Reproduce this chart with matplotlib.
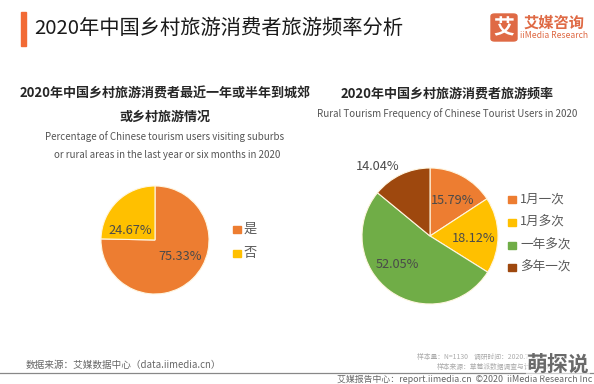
import matplotlib
matplotlib.use('Agg')
import matplotlib.pyplot as plt
from matplotlib.patches import Rectangle, FancyBboxPatch

plt.rcParams['font.family'] = ['Noto Sans CJK SC', 'DejaVu Sans']

W, H = 594, 384

left_labels = ['是', '否']
left_values = [75.33, 24.67]
left_colors = ['#ED7D31', '#FFC000']

right_labels = ['1月一次', '1月多次', '一年多次', '多年一次']
right_values = [15.79, 18.12, 52.05, 14.04]
right_colors = ['#ED7D31', '#FFC000', '#70AD47', '#9E480E']

DARK = '#4a4a4a'


def px(x, y):
    return x / W, 1 - y / H


def txt(fig, x, y, s, size, color='#262626', ha='center', **kw):
    fx, fy = px(x, y)
    return fig.text(fx, fy, s, fontsize=size, color=color, ha=ha, va='center', **kw)


def draw_pie(fig, values, colors, cx, cy, r):
    ax = fig.add_axes([(cx - r) / W, 1 - (cy + r) / H, 2 * r / W, 2 * r / H])
    ax.pie(values, colors=colors, startangle=90, counterclock=False, radius=1,
           wedgeprops={'edgecolor': '#FFF6E0', 'linewidth': 0.8})
    ax.set_xlim(-1, 1)
    ax.set_ylim(-1, 1)
    ax.axis('off')
    return ax


fig = plt.figure(figsize=(W / 100, H / 100), dpi=100, facecolor='white')

# header
fig.add_artist(Rectangle(px(21, 46), 5 / W, 34 / H, color='#F26A35',
                         transform=fig.transFigure))
txt(fig, 34, 28, '2020年中国乡村旅游消费者旅游频率分析', 14.6, ha='left', color='#1a1a1a')

# logo
fig.add_artist(FancyBboxPatch(px(491, 41), 26 / W, 27 / H,
                              boxstyle='round,pad=0,rounding_size=0.006',
                              color='#DF6A45', transform=fig.transFigure))
txt(fig, 504, 27.5, '艾', 15, color='white', fontweight='bold')
txt(fig, 554, 23, '艾媒咨询', 11, color='#DF6A45', fontweight='bold')
txt(fig, 554, 36, 'iiMedia Research', 6.2, color='#DF6A45')

# left titles
txt(fig, 165, 94, '2020年中国乡村旅游消费者最近一年或半年到城郊', 9.4, fontweight='bold')
txt(fig, 165, 117, '或乡村旅游情况', 9.4, fontweight='bold')
txt(fig, 165, 137, 'Percentage of Chinese tourism users visiting suburbs', 7, color='#555555')
txt(fig, 167, 155, 'or rural areas in the last year or six months in 2020', 7, color='#555555')

# right titles
txt(fig, 447, 94, '2020年中国乡村旅游消费者旅游频率', 9.4, fontweight='bold')
txt(fig, 447, 114, 'Rural Tourism Frequency of Chinese Tourist Users in 2020', 7, color='#555555')

# left pie
draw_pie(fig, left_values, left_colors, 155, 240, 54)
txt(fig, 180.5, 257, '75.33%', 9.2, color=DARK)
txt(fig, 130, 231, '24.67%', 9.2, color=DARK)
for lab, col, y in zip(left_labels, left_colors, [229, 253]):
    fig.add_artist(Rectangle(px(233, y + 4), 7.5 / W, 7.5 / H, color=col,
                             transform=fig.transFigure))
    txt(fig, 244, y, lab, 9.5, color='#595959', ha='left')

# right pie
draw_pie(fig, right_values, right_colors, 430, 236, 68)
for s, x, y in zip(['15.79%', '18.12%', '52.05%', '14.04%'],
                   [452.5, 473.5, 397, 378], [200, 239, 264, 167]):
    txt(fig, x, y, s, 9.2, color=DARK)
for lab, col, y in zip(right_labels, right_colors, [199, 222, 245, 267]):
    fig.add_artist(Rectangle(px(508, y + 4), 7.5 / W, 7.5 / H, color=col,
                             transform=fig.transFigure))
    txt(fig, 520, y, lab, 9.1, color='#595959', ha='left')

# footer
txt(fig, 26, 365, '数据来源：艾媒数据中心（data.iimedia.cn）', 6.95, color='#666666', ha='left')
txt(fig, 417, 357, '样本量：N=1130    调研时间：2020.7.20', 4.9, color='#aaaaaa', ha='left')
txt(fig, 437, 367, '样本来源：草莓派数据调查与计算系统', 4.9, color='#aaaaaa', ha='left')
fig.add_artist(plt.Line2D([0, 1], [1 - 373 / H] * 2, color='#888888', lw=0.9,
                          transform=fig.transFigure))
txt(fig, 592, 379, '艾媒报告中心：report.iimedia.cn  ©2020  iiMedia Research Inc', 6.4,
    color='#666666', ha='right')
txt(fig, 558, 365, '萌探说', 15, color='#6a6a6a', fontweight='bold',
    bbox={'facecolor': 'white', 'edgecolor': 'none', 'pad': 0.5, 'alpha': 0.6})

fig.savefig('out.png', dpi=100)
